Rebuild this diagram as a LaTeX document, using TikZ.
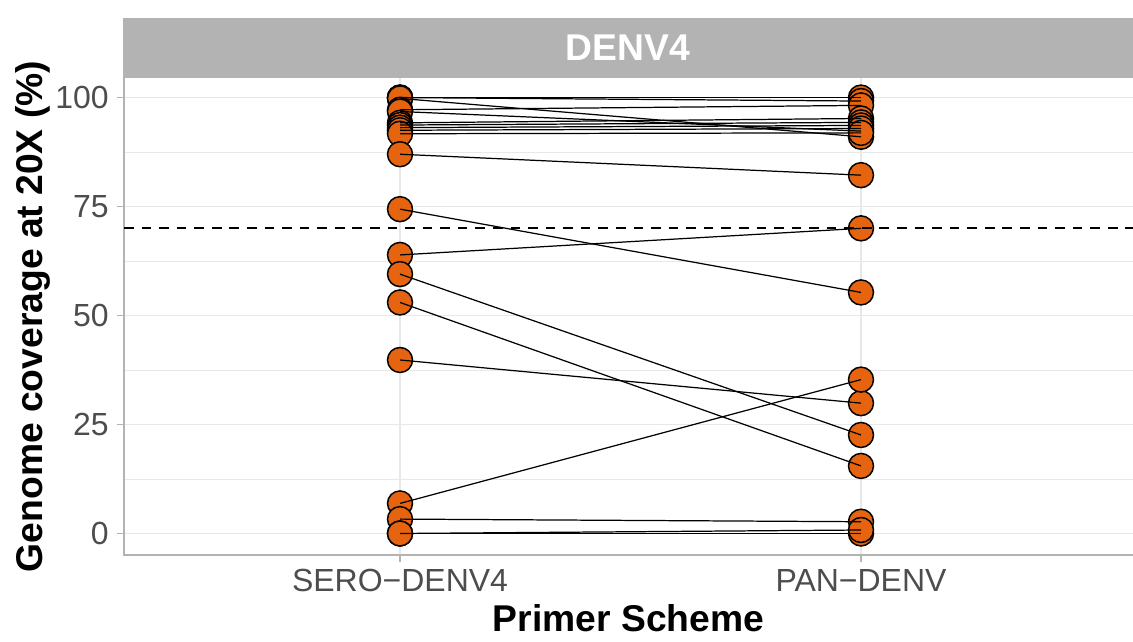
\documentclass[tikz,border=0pt]{standalone}
\usepackage{fontspec}
\setmainfont{Liberation Sans}
\usepackage{xcolor}
\definecolor{ptfill}{RGB}{230,100,16}
\definecolor{gridgray}{RGB}{232,232,232}
\definecolor{axisgray}{RGB}{179,179,179}
\definecolor{ticktext}{RGB}{77,77,77}

\begin{document}
\begin{tikzpicture}[x=0.02cm, y=0.02cm,
    pt/.style={circle, draw=black, fill=ptfill, line width=0.85pt, minimum size=0.5cm, inner sep=0pt},
    link/.style={black, line width=0.7pt},
    ticklab/.style={text=ticktext, font=\fontsize{18.2}{20}\selectfont, inner sep=0pt},
    axtitle/.style={font=\fontsize{21.2}{24}\selectfont\bfseries, inner sep=0pt}]
		\useasboundingbox (0,0) rectangle (1133,642);

		% Facet strip
		\fill[axisgray] (123,564) rectangle (1133,624);
		\node[axtitle, text=white] (strip) at (628,594.5) {DENV4};

		\begin{scope}[shift={(0,108.5)}, y=0.0872cm] % data units on the y axis
				% Minor and major grid lines
				\foreach \v in {12.5, 37.5, 62.5, 87.5} {
						\draw[gridgray, line width=0.4pt] (124,\v) -- (1133,\v);
					}
				\foreach \v in {0, 25, 50, 75, 100} {
						\draw[gridgray, line width=0.75pt] (124,\v) -- (1133,\v);
						\draw[axisgray, line width=0.8pt] (117,\v) -- (124,\v);
						\node[ticklab, anchor=east] at (109,\v) {\v};
					}
				\foreach \x in {400, 861} {
						\draw[gridgray, line width=0.75pt] (\x,-4.93) -- (\x,104.47);
						\draw[axisgray, line width=0.8pt] (\x,-4.93) -- (\x,-6.55);
					}

				% Axis lines
				\draw[axisgray, line width=0.8pt] (124,104.47) -- (124,-4.93) -- (1133,-4.93);

				% Samples: coverage with each primer scheme
				\foreach [count=\i] \s/\p in {100/100, 100/99.2, 99.8/91, 97.2/98.2, 96.8/92.3,
						94.2/95.2, 93.7/94.3, 93.1/93.6, 92.5/92.9, 91.7/91.9, 87/82.2, 74.4/55.3,
						63.9/70, 59.5/22.6, 53/15.5, 39.8/29.9, 6.9/35.3, 3.3/2.7, 0/0, 0/0.8} {
						\node[pt] (s\i) at (400,\s) {};
						\node[pt] (p\i) at (861,\p) {};
					}
				\foreach \i in {1,...,20} {
						\draw[link] (s\i.center) -- (p\i.center);
					}

				% Threshold line
				\coordinate (T0) at (124,70);
				\coordinate (T1) at (1133,70);
				\draw[black, line width=1.3pt, dash pattern=on 5.5pt off 4.5pt] (T0) -- (T1);
			\end{scope}

		% Axis labels
		\node[ticklab, anchor=base] (sero) at (400,50) {SERO−DENV4};
		\node[ticklab, anchor=base] (pan) at (861,50) {PAN−DENV};
		\node[axtitle, anchor=base] (xlab) at (628.5,10.3) {Primer Scheme};
		\node[axtitle, anchor=base, rotate=90] (ylab) at (42.7,325.5) {Genome coverage at 20X (\%)};
	\end{tikzpicture}
\end{document}
